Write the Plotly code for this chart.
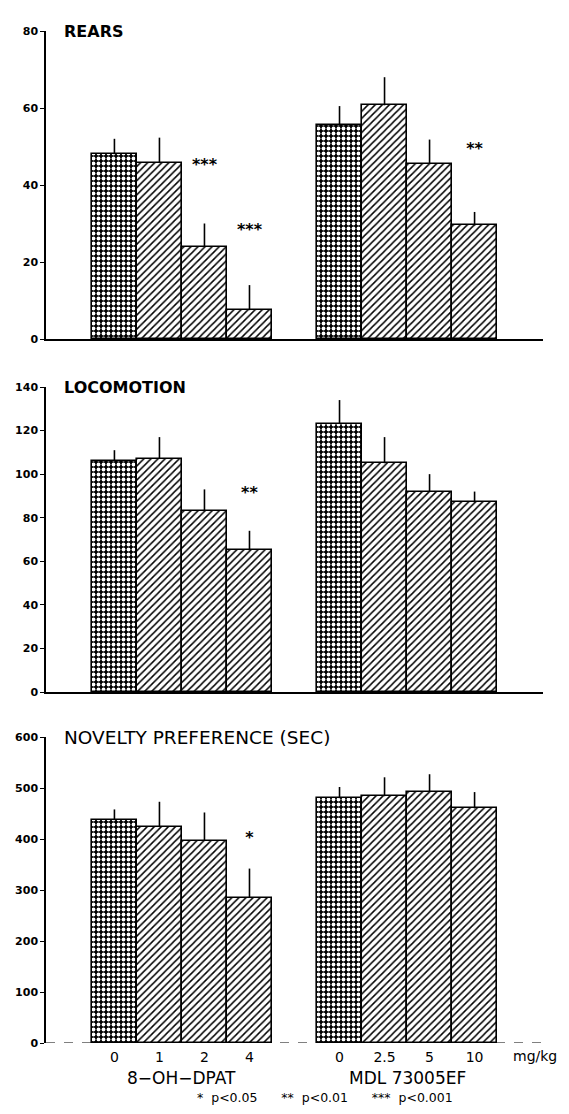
import plotly.graph_objects as go

# ---------------- data ----------------
doses_dpat = ["0", "1", "2", "4"]
doses_mdl = ["0", "2.5", "5", "10"]
groups = ["8\u2212OH\u2212DPAT", "MDL 73005EF"]

rears_mean = [48, 45.7, 24, 7.5, 55.5, 60.7, 45.5, 29.5]
rears_err = [4, 6.6, 6, 6.5, 5, 7.3, 6.3, 3.5]
rears_sig = ["", "", "***", "***", "", "", "", "**"]
rears_sig_y = [0, 0, 45, 28, 0, 0, 0, 49]

loco_mean = [106, 107, 83, 65, 123, 105, 92, 87]
loco_err = [5, 10, 10, 9, 11, 12, 8, 5]
loco_sig = ["", "", "", "**", "", "", "", ""]
loco_sig_y = [0, 0, 0, 91, 0, 0, 0, 0]

nov_mean = [437, 424, 397, 285, 480, 484, 492, 460]
nov_err = [21, 49, 55, 57, 22, 37, 35, 32]
nov_sig = ["", "", "", "*", "", "", "", ""]
nov_sig_y = [0, 0, 0, 400, 0, 0, 0, 0]

titles = ["REARS", "LOCOMOTION", "NOVELTY PREFERENCE (SEC)"]
yranges = [(0, 80, 20), (0, 140, 20), (0, 600, 100)]
footnote = "*  p<0.05      **  p<0.01      ***  p<0.001"

xpos = [0, 1, 2, 3, 5, 6, 7, 8]
group_centers = [1.5, 6.5]

panels = [
    (rears_mean, rears_err, rears_sig, rears_sig_y),
    (loco_mean, loco_err, loco_sig, loco_sig_y),
    (nov_mean, nov_err, nov_sig, nov_sig_y),
]

OFF = 8  # page body margin
W = 569 - 2 * OFF
H = 1114 - 2 * OFF
MT, MB = 12, 12
PH = H - MT - MB
# page-pixel extents of each panel (top, bottom)
pix = [(31, 339), (387, 692), (737, 1043)]


def py(p):
    return 1 - (p - OFF - MT) / PH


domains = [[py(b), py(t)] for t, b in pix]

fig = go.Figure()
FONT = "DejaVu Sans, Verdana, sans-serif"

for i, (mean, err, sig, sig_y) in enumerate(panels):
    n = "" if i == 0 else str(i + 1)
    xa, ya = "x" + n, "y" + n
    for k in range(8):
        first = k % 4 == 0
        if first:
            pattern = dict(shape=".", fgcolor="white", bgcolor="black", size=5, solidity=0.45, fillmode="replace")
        else:
            pattern = dict(shape="/", fgcolor="black", bgcolor="white", size=5, solidity=0.3, fillmode="replace")
        fig.add_trace(go.Bar(
            x=[xpos[k]], y=[mean[k]], width=1.0,
            marker=dict(color="white", pattern=pattern, line=dict(color="black", width=1.6)),
            error_y=dict(type="data", array=[err[k]], arrayminus=[0], symmetric=False,
                         width=0, thickness=1.6, color="black"),
            xaxis=xa, yaxis=ya, showlegend=False,
        ))
    sx = [xpos[k] for k in range(8) if sig[k]]
    sy = [sig_y[k] for k in range(8) if sig[k]]
    st = [sig[k] for k in range(8) if sig[k]]
    fig.add_trace(go.Scatter(
        x=sx, y=sy, text=st, mode="text",
        textfont=dict(family=FONT, size=16, color="black", weight="bold"),
        xaxis=xa, yaxis=ya, showlegend=False,
    ))
    lo, hi, step = yranges[i]
    fig.update_layout({
        "xaxis" + n: dict(domain=[0, 1], range=[-1.52, 9.52], anchor=ya, automargin=False,
                          showline=(i < 2), linecolor="black", linewidth=1.5,
                          showgrid=False, zeroline=False,
                          tickmode="array",
                          tickvals=(xpos if i == 2 else []),
                          ticktext=(doses_dpat + doses_mdl if i == 2 else []),
                          ticks="", tickfont=dict(family=FONT, size=14, color="black"),
                          ticklabelstandoff=4),
        "yaxis" + n: dict(domain=domains[i], range=[lo, hi], anchor=xa, automargin=False,
                          tickvals=list(range(lo, hi + 1, step)),
                          showline=True, linecolor="black", linewidth=1.5,
                          ticks="outside", ticklen=4, tickwidth=1.2, tickcolor="black",
                          showgrid=False, zeroline=False,
                          tickfont=dict(family=FONT, size=11, color="black", weight="bold")),
    })
    fig.add_annotation(text=titles[i], x=0.033, xref="x" + n + " domain",
                       y=hi, yref=ya, xanchor="left", yanchor="middle", showarrow=False,
                       font=dict(family=FONT, size=(18.5 if i == 2 else 16), color="black",
                                 weight=("normal" if i == 2 else "bold")))

# dashed baseline on bottom panel
fig.add_shape(type="line", xref="x3 domain", yref="y3", x0=0, x1=1, y0=0, y1=0,
              line=dict(color="black", width=1, dash="dash"))

# group labels and units
for g, c in zip(groups, group_centers):
    fig.add_annotation(text=g, x=c, xref="x3", y=py(1078), yref="paper", yanchor="middle",
                       showarrow=False, font=dict(family=FONT, size=17, color="black"))
fig.add_annotation(text="mg/kg", x=9.35, xref="x3", y=py(1056), yref="paper", yanchor="middle",
                   showarrow=False, font=dict(family=FONT, size=14, color="black"))
fig.add_annotation(text=footnote, x=(318 - OFF) / W, xref="paper", y=py(1097), yref="paper",
                   yanchor="middle", showarrow=False,
                   font=dict(family=FONT, size=12.5, color="black"))

fig.update_layout(width=W, height=H, plot_bgcolor="white", paper_bgcolor="white",
                  margin=dict(l=46 - OFF, r=569 - 543 - OFF, t=MT, b=MB, autoexpand=False),
                  bargap=0)
fig.write_html("out.html")
